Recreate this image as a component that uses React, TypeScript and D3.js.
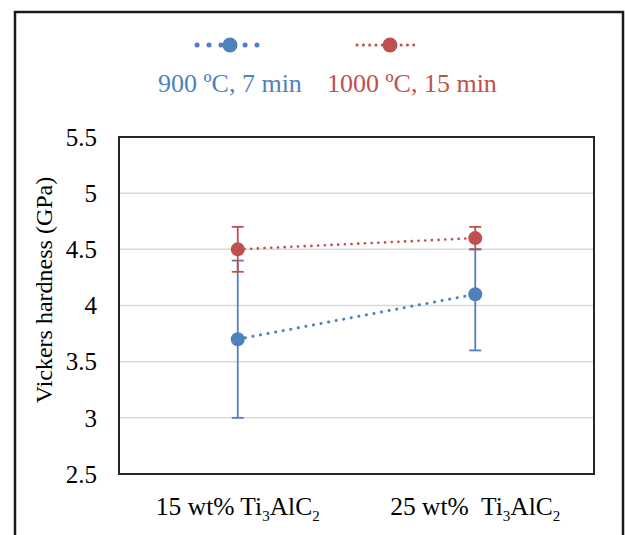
import React from "react";
import * as d3 from "d3";

const categories = ["15 wt%", "25 wt%"];
const seriesNames = ["900 ºC, 7 min", "1000 ºC, 15 min"];
const blueValues = [3.7, 4.1];
const blueLow = [3.0, 3.6];
const blueHigh = [4.4, 4.5];
const redValues = [4.5, 4.6];
const redLow = [4.3, 4.5];
const redHigh = [4.7, 4.7];
const yTicks = [2.5, 3, 3.5, 4, 4.5, 5, 5.5];

const BLUE = "#4F81BD";
const RED = "#C0504D";
const FONT = "Liberation Serif, Times New Roman, serif";
const tf = { fontFamily: FONT };

export default function App() {
  const W = 625, H = 535;
  const left = 119, right = 594, top = 137, bottom = 474;
  const x = d3.scaleBand<string>().domain(categories).range([left, right]);
  const y = d3.scaleLinear().domain([2.5, 5.5]).range([bottom, top]);
  const cx = (c: string) => (x(c) as number) + x.bandwidth() / 2;
  const line = d3.line<[number, number]>().x((d) => d[0]).y((d) => d[1]);

  const series = [
    { vals: blueValues, lo: blueLow, hi: blueHigh, color: BLUE, sw: 3, dash: "0.1 7.6" },
    { vals: redValues, lo: redLow, hi: redHigh, color: RED, sw: 2.6, dash: "0.1 6.6" },
  ];

  return (
    <svg width={W} height={H} style={{ position: "absolute", left: 0, top: 0, background: "#fff" }}>
      <rect x={15} y={12} width={608} height={540} fill="none" stroke="#1a1a1a" strokeWidth={2.5} />
      {yTicks.map((t) => (
        <g key={t}>
          {t > 2.5 && t < 5.5 && (
            <line x1={left} x2={right} y1={y(t)} y2={y(t)} stroke="#d9d9d9" strokeWidth={1.5} />
          )}
          <text x={97} y={y(t)} dy="0.35em" textAnchor="end" fontSize={25} fill="#000" style={tf}>
            {t}
          </text>
        </g>
      ))}
      <rect x={left} y={top} width={right - left} height={bottom - top} fill="none" stroke="#262626" strokeWidth={2} />
      <text
        transform={`translate(52,290) rotate(-90)`}
        textAnchor="middle"
        fontSize={24}
        fill="#000"
        style={tf}
      >
        Vickers hardness (GPa)
      </text>
      {categories.map((c, i) => (
        <text key={c} x={cx(c)} y={515} textAnchor="middle" fontSize={25.5} fill="#000" style={{ ...tf, whiteSpace: "pre" }}>
          {i === 0 ? "15 wt% Ti" : "25 wt%  Ti"}
          <tspan fontSize={15} dy={6}>3</tspan>
          <tspan dy={-6}>AlC</tspan>
          <tspan fontSize={15} dy={6}>2</tspan>
        </text>
      ))}
      {series.map((s, si) => (
        <g key={si}>
          {categories.map((c, i) => (
            <g key={c} stroke={s.color} strokeWidth={1.8}>
              <line x1={cx(c)} x2={cx(c)} y1={y(s.lo[i])} y2={y(s.hi[i])} />
              <line x1={cx(c) - 6} x2={cx(c) + 6} y1={y(s.lo[i])} y2={y(s.lo[i])} />
              <line x1={cx(c) - 6} x2={cx(c) + 6} y1={y(s.hi[i])} y2={y(s.hi[i])} />
            </g>
          ))}
          <path
            d={line(categories.map((c, i) => [cx(c), y(s.vals[i])]) as [number, number][]) || ""}
            fill="none"
            stroke={s.color}
            strokeWidth={s.sw}
            strokeDasharray={s.dash}
            strokeLinecap="round"
          />
          {categories.map((c, i) => (
            <circle key={c} cx={cx(c)} cy={y(s.vals[i])} r={7} fill={s.color} />
          ))}
        </g>
      ))}
      {/* legend */}
      <path d="M197,45 L257,45" stroke={BLUE} strokeWidth={5} strokeDasharray="0.1 11.9" strokeLinecap="round" fill="none" />
      <circle cx={230} cy={45} r={7.5} fill={BLUE} />
      <path d="M357,45 L419,45" stroke={RED} strokeWidth={3} strokeDasharray="0.1 6.2" strokeLinecap="round" fill="none" />
      <circle cx={390} cy={45} r={7.5} fill={RED} />
      <text x={158} y={92} fontSize={26} fill={BLUE} style={tf}>{seriesNames[0]}</text>
      <text x={327} y={92} fontSize={26} fill={RED} style={tf}>{seriesNames[1]}</text>
    </svg>
  );
}
